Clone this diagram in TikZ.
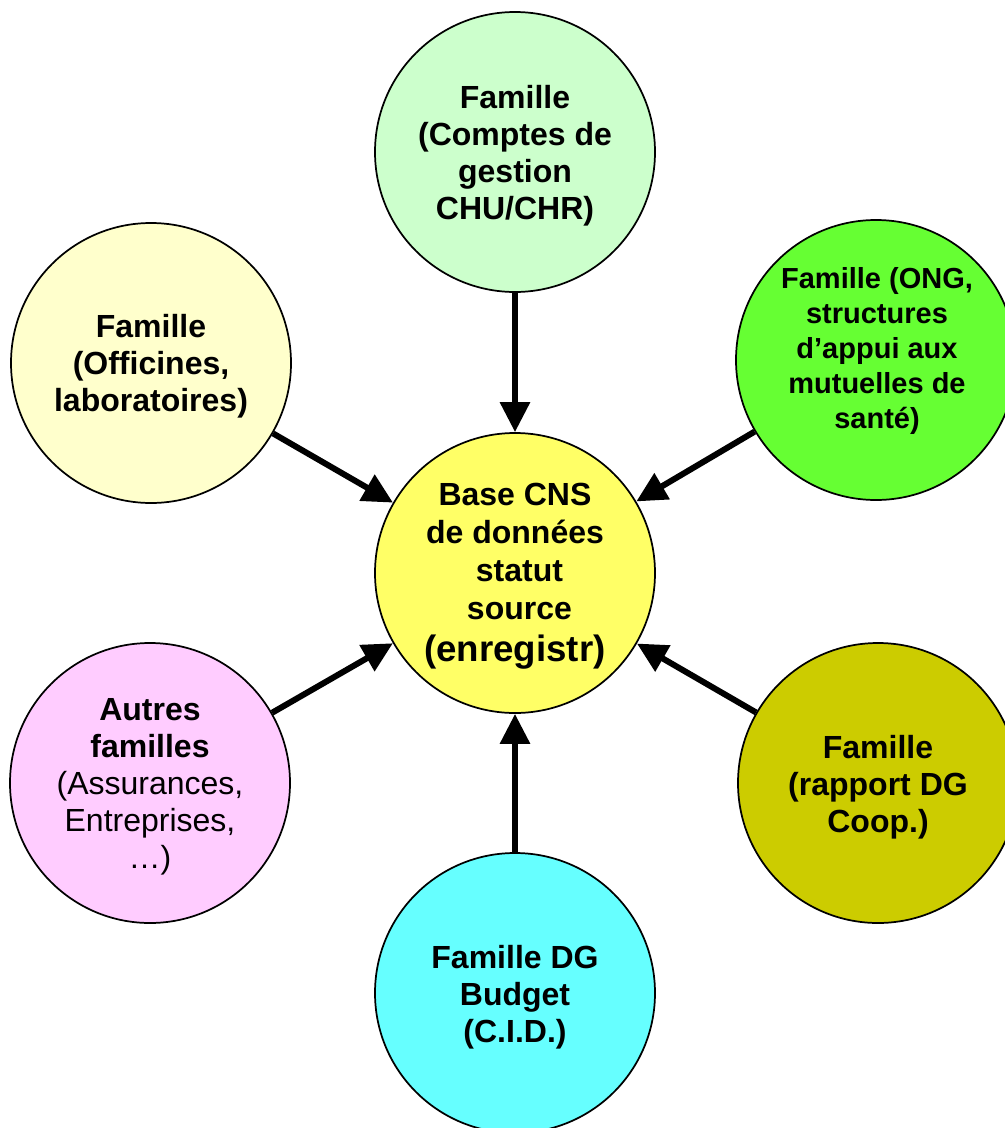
\documentclass[tikz,border=0pt]{standalone}
\usepackage{fontspec}
\setmainfont{Liberation Sans}
\usetikzlibrary{arrows.meta}
\definecolor{cTop}{HTML}{CCFFCC}
\definecolor{cOng}{HTML}{66FF33}
\definecolor{cCtr}{HTML}{FFFF66}
\definecolor{cCoop}{HTML}{CCCC00}
\definecolor{cBud}{HTML}{66FFFF}
\definecolor{cAut}{HTML}{FFCCFF}
\definecolor{cOff}{HTML}{FFFFCC}
\begin{document}
\begin{tikzpicture}[x=0.75pt,y=-0.75pt,
  circ/.style={circle,draw=black,line width=1.3pt,minimum size=210pt,inner sep=0pt},
  lbl/.style={align=center,inner sep=0pt,font=\fontsize{24}{27.75}\selectfont\bfseries},
  lblreg/.style={align=center,inner sep=0pt,font=\fontsize{24}{27.75}\selectfont},
  arr/.style={line width=4.5pt,-{Triangle[length=22.5pt,width=21.75pt]}}]
\useasboundingbox (0,0) rectangle (1005,1128);
\clip (0,0) rectangle (1005,1128);
% circles
\node[circ,fill=cTop]  (top) at (515,152) {};
\node[circ,fill=cOff]  (off) at (151,363) {};
\node[circ,fill=cOng]  (ong) at (876,360) {};
\node[circ,fill=cCtr]  (ctr) at (515,573) {};
\node[circ,fill=cAut]  (aut) at (150,783) {};
\node[circ,fill=cCoop] (coop) at (878,783) {};
\node[circ,fill=cBud]  (bud) at (515,993) {};
% texts
\node[lbl] (ttop) at (515,156) {Famille\\(Comptes de\\gestion\\CHU/CHR)};
\node[lbl] (toff) at (151,366) {Famille\\(Officines,\\laboratoires)};
\node[lbl,font=\fontsize{21.75}{26.25}\selectfont\bfseries] (tong) at (877,351) {Famille (ONG,\\structures\\d’appui aux\\mutuelles de\\santé)};
\node[lbl,font=\fontsize{24}{28.5}\selectfont\bfseries] (tctr) at (515,576) {%
  Base CNS\\
  de données\\
  \ statut\\
  \ source\\[3pt]
  {\fontsize{27.5}{30}\selectfont (enregistr)}};
\node[lblreg] (taut) at (150,787) {%
  \textbf{Autres}\\
  \textbf{familles}\\
  (Assurances,\\
  Entreprises,\\
  …)};
\node[lbl] (tcoop) at (878,787) {Famille\\(rapport DG\\Coop.)};
\node[lbl] (tbud) at (515,997) {Famille DG\\Budget\\(C.I.D.)};
% arrows
\draw[arr] (top) -- (ctr);
\draw[arr] (off) -- (ctr);
\draw[arr] (ong) -- (ctr);
\draw[arr] (aut) -- (ctr);
\draw[arr] (coop) -- (ctr);
\draw[arr] (bud) -- (ctr);
\end{tikzpicture}
\end{document}
